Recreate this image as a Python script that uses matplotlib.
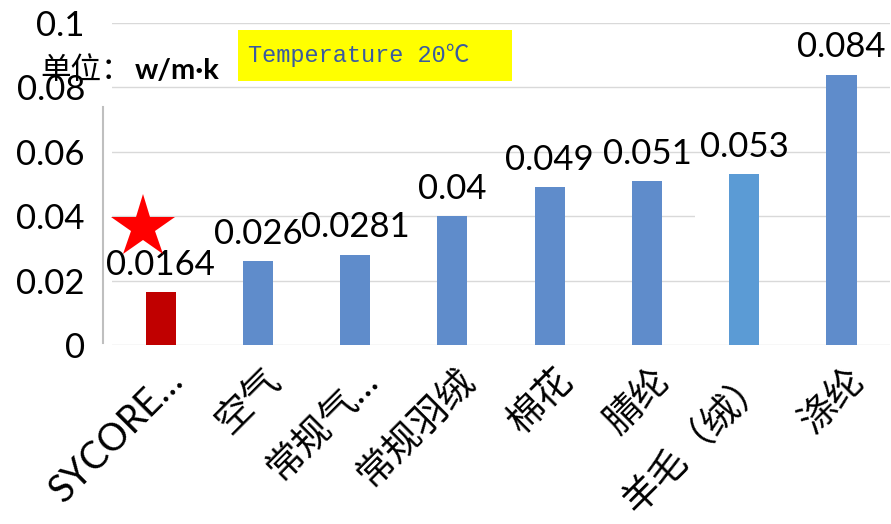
import matplotlib
matplotlib.use("Agg")
import matplotlib.pyplot as plt
from matplotlib.patches import Rectangle
from matplotlib.transforms import ScaledTranslation

plt.rcParams['font.family'] = ['Lato', 'Noto Sans CJK SC', 'DejaVu Sans']

# data (thermal conductivity, w/m.k)
materials = ["SYCORE…", "空气", "常规气…", "常规羽绒", "棉花", "腈纶", "羊毛（绒）", "涤纶"]
values = [0.0164, 0.026, 0.0281, 0.04, 0.049, 0.051, 0.053, 0.084]
value_labels = ["0.0164", "0.026", "0.0281", "0.04", "0.049", "0.051", "0.053", "0.084"]
bar_colors = ["#C00000", "#5F8CCB", "#5F8CCB", "#5F8CCB", "#5F8CCB", "#5F8CCB", "#5B9BD5", "#5F8CCB"]
y_ticks = [0, 0.02, 0.04, 0.06, 0.08, 0.1]
y_tick_labels = ["0", "0.02", "0.04", "0.06", "0.08", "0.1"]

fig = plt.figure(figsize=(8.91, 5.24), dpi=100)
ax = fig.add_axes([0.1257, 0.3416, 0.8733, 0.6144])

x = list(range(len(materials)))
ax.bar(x, values, width=0.31, color=bar_colors, zorder=3)
ax.set_xlim(-0.5, len(materials) - 0.5)
ax.set_ylim(0, 0.1)

for xi, v, lab in zip(x, values, value_labels):
    ax.text(xi, v + 0.0035, lab, ha='center', va='bottom', fontsize=25, color='black', zorder=4)

ax.set_yticks(y_ticks)
ax.set_yticklabels(y_tick_labels, fontsize=25)
ax.tick_params(axis='y', length=0, pad=19.5)
ax.set_xticks(x)
ax.set_xticklabels(materials, rotation=45, ha='right', va='top', rotation_mode='anchor', fontsize=27)
ax.tick_params(axis='x', length=0, pad=12)
shift = ScaledTranslation(4 / 100, 0, fig.dpi_scale_trans)
for t in ax.get_xticklabels():
    t.set_fontfamily(['Lato', 'Noto Sans CJK SC', 'DejaVu Sans'])
    t.set_transform(t.get_transform() + shift)

ax.grid(axis='y', color='#D9D9D9', linewidth=1, zorder=0)
for s in ax.spines.values():
    s.set_visible(False)

# short grey axis line on the left
ax.plot([-0.595, -0.595], [0.0005, 0.074], color='#BFBFBF', lw=1.5, clip_on=False, zorder=2)

# red star marking the first material
ax.plot([-0.18], [0.0365], marker='*', markersize=48, color='#FF0000', markeredgewidth=0, clip_on=False, zorder=5)

# small white patch over the gridline next to bar 7
ax.add_patch(Rectangle((5.49, 0.0365), 0.37, 0.0055, facecolor='white', edgecolor='none', zorder=2))

# unit label and temperature box
fig.text(40 / 891, 1 - 70 / 524, "单位：", fontsize=22, family=['Noto Sans CJK SC'], va='center', ha='left')
fig.text(135 / 891, 1 - 71 / 524, "w/m·k", fontsize=21, fontweight='bold', family=['Lato', 'DejaVu Sans'],
         va='center', ha='left')
fig.patches.append(Rectangle((238 / 891, 1 - 81 / 524), 274 / 891, 51 / 524, transform=fig.transFigure,
                             facecolor='#FFFF00', edgecolor='none', zorder=6))
fig.text(248 / 891, 1 - 55 / 524, "Temperature 20℃", fontsize=17, color='#3A5BA0',
         family=['Liberation Mono', 'Noto Sans CJK SC'], va='center', ha='left', zorder=7)

fig.savefig("out.png", dpi=100)
